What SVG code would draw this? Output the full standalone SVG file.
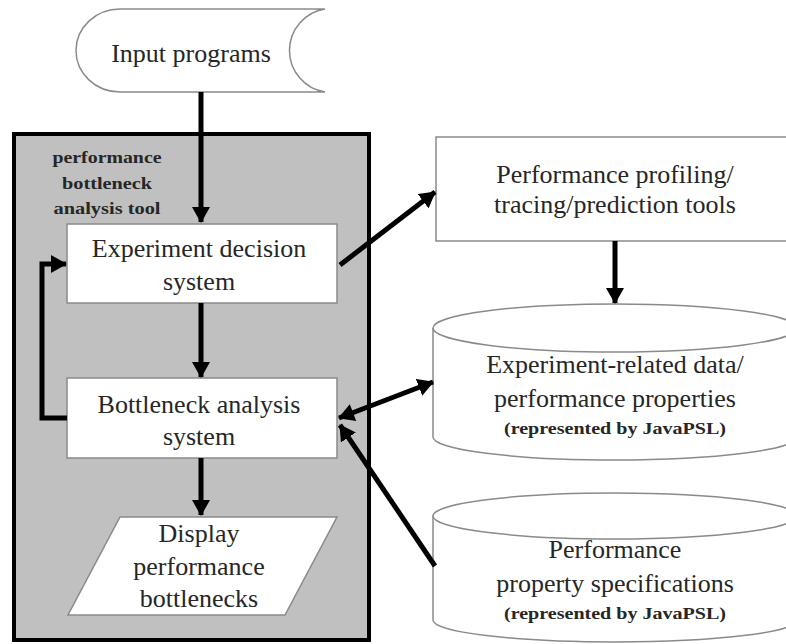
<svg xmlns="http://www.w3.org/2000/svg" width="786" height="644" viewBox="0 0 786 644">
  <style>
    .shape { fill: #ffffff; stroke: #8a8a8a; stroke-width: 1.5; }
    .label { font-family: "Liberation Serif", "Times New Roman", serif; font-size: 26px; fill: #262626; text-anchor: middle; }
    .small { font-family: "Liberation Serif", "Times New Roman", serif; font-size: 17px; font-weight: bold; fill: #262626; text-anchor: middle; }
    .flow { fill: none; stroke: #000000; stroke-width: 5; }
  </style>
  <defs>
    <marker id="head" markerUnits="userSpaceOnUse" markerWidth="20" markerHeight="20" refX="15" refY="9" orient="auto">
      <path d="M0,0 L16,9 L0,18 Z" fill="#000000"/>
    </marker>
    <marker id="tail" markerUnits="userSpaceOnUse" markerWidth="20" markerHeight="20" refX="1" refY="9" orient="auto">
      <path d="M16,0 L0,9 L16,18 Z" fill="#000000"/>
    </marker>
  </defs>

  <!-- enclosing tool frame -->
  <g id="tool-frame">
    <rect x="14" y="134" width="355" height="506" fill="#c0c0c0" stroke="#000000" stroke-width="4"/>
    <text class="small" x="107" y="163" textLength="109" lengthAdjust="spacingAndGlyphs">performance</text>
    <text class="small" x="107" y="189" textLength="90" lengthAdjust="spacingAndGlyphs">bottleneck</text>
    <text class="small" x="107" y="214" textLength="107" lengthAdjust="spacingAndGlyphs">analysis tool</text>
  </g>

  <g id="input-programs">
    <path class="shape" d="M325,9 L120,9 A44,41.5 0 0 0 120,92 L325,92 A42,42 0 0 1 325,9 Z"/>
    <text class="label" x="191" y="62">Input programs</text>
  </g>

  <g id="experiment-decision">
    <rect class="shape" x="67" y="224" width="270" height="79"/>
    <text class="label" x="199" y="257">Experiment decision</text>
    <text class="label" x="199" y="290">system</text>
  </g>

  <g id="bottleneck-analysis">
    <rect class="shape" x="67" y="378" width="270" height="80"/>
    <text class="label" x="199" y="413">Bottleneck analysis</text>
    <text class="label" x="199" y="445">system</text>
  </g>

  <g id="display-bottlenecks">
    <path class="shape" d="M120,517 L337,517 L285,615 L68,615 Z"/>
    <text class="label" x="199" y="542">Display</text>
    <text class="label" x="199" y="575">performance</text>
    <text class="label" x="199" y="607">bottlenecks</text>
  </g>

  <g id="profiling-tools">
    <rect class="shape" x="436" y="137" width="360" height="104"/>
    <text class="label" x="615" y="183">Performance profiling/</text>
    <text class="label" x="615" y="213">tracing/prediction tools</text>
  </g>

  <g id="experiment-data">
    <path class="shape" d="M433,328 L433,437 A182,23 0 0 0 797,437 L797,328"/>
    <ellipse class="shape" cx="615" cy="328" rx="182" ry="24"/>
    <text class="label" x="615" y="373">Experiment-related data/</text>
    <text class="label" x="615" y="407">performance properties</text>
    <text class="small" x="615" y="434" textLength="222" lengthAdjust="spacingAndGlyphs">(represented by JavaPSL)</text>
  </g>

  <g id="property-specs">
    <path class="shape" d="M433,516 L433,620 A182,22 0 0 0 797,620 L797,516"/>
    <ellipse class="shape" cx="615" cy="516" rx="182" ry="23"/>
    <text class="label" x="615" y="558">Performance</text>
    <text class="label" x="615" y="592">property specifications</text>
    <text class="small" x="615" y="619" textLength="222" lengthAdjust="spacingAndGlyphs">(represented by JavaPSL)</text>
  </g>

  <g id="connectors">
    <line class="flow" x1="201" y1="92" x2="201" y2="222" marker-end="url(#head)"/>
    <line class="flow" x1="201" y1="303" x2="201" y2="377" marker-end="url(#head)"/>
    <line class="flow" x1="201" y1="458" x2="201" y2="515" marker-end="url(#head)"/>
    <polyline class="flow" points="67,418 42,418 42,264 66,264" marker-end="url(#head)"/>
    <line class="flow" x1="340" y1="265" x2="435" y2="192" marker-end="url(#head)"/>
    <line class="flow" x1="615" y1="241" x2="615" y2="303" marker-end="url(#head)"/>
    <line class="flow" stroke-width="4" x1="339" y1="418" x2="433" y2="382" marker-start="url(#tail)" marker-end="url(#head)"/>
    <line class="flow" x1="435" y1="566" x2="340" y2="425" marker-end="url(#head)"/>
  </g>
</svg>
